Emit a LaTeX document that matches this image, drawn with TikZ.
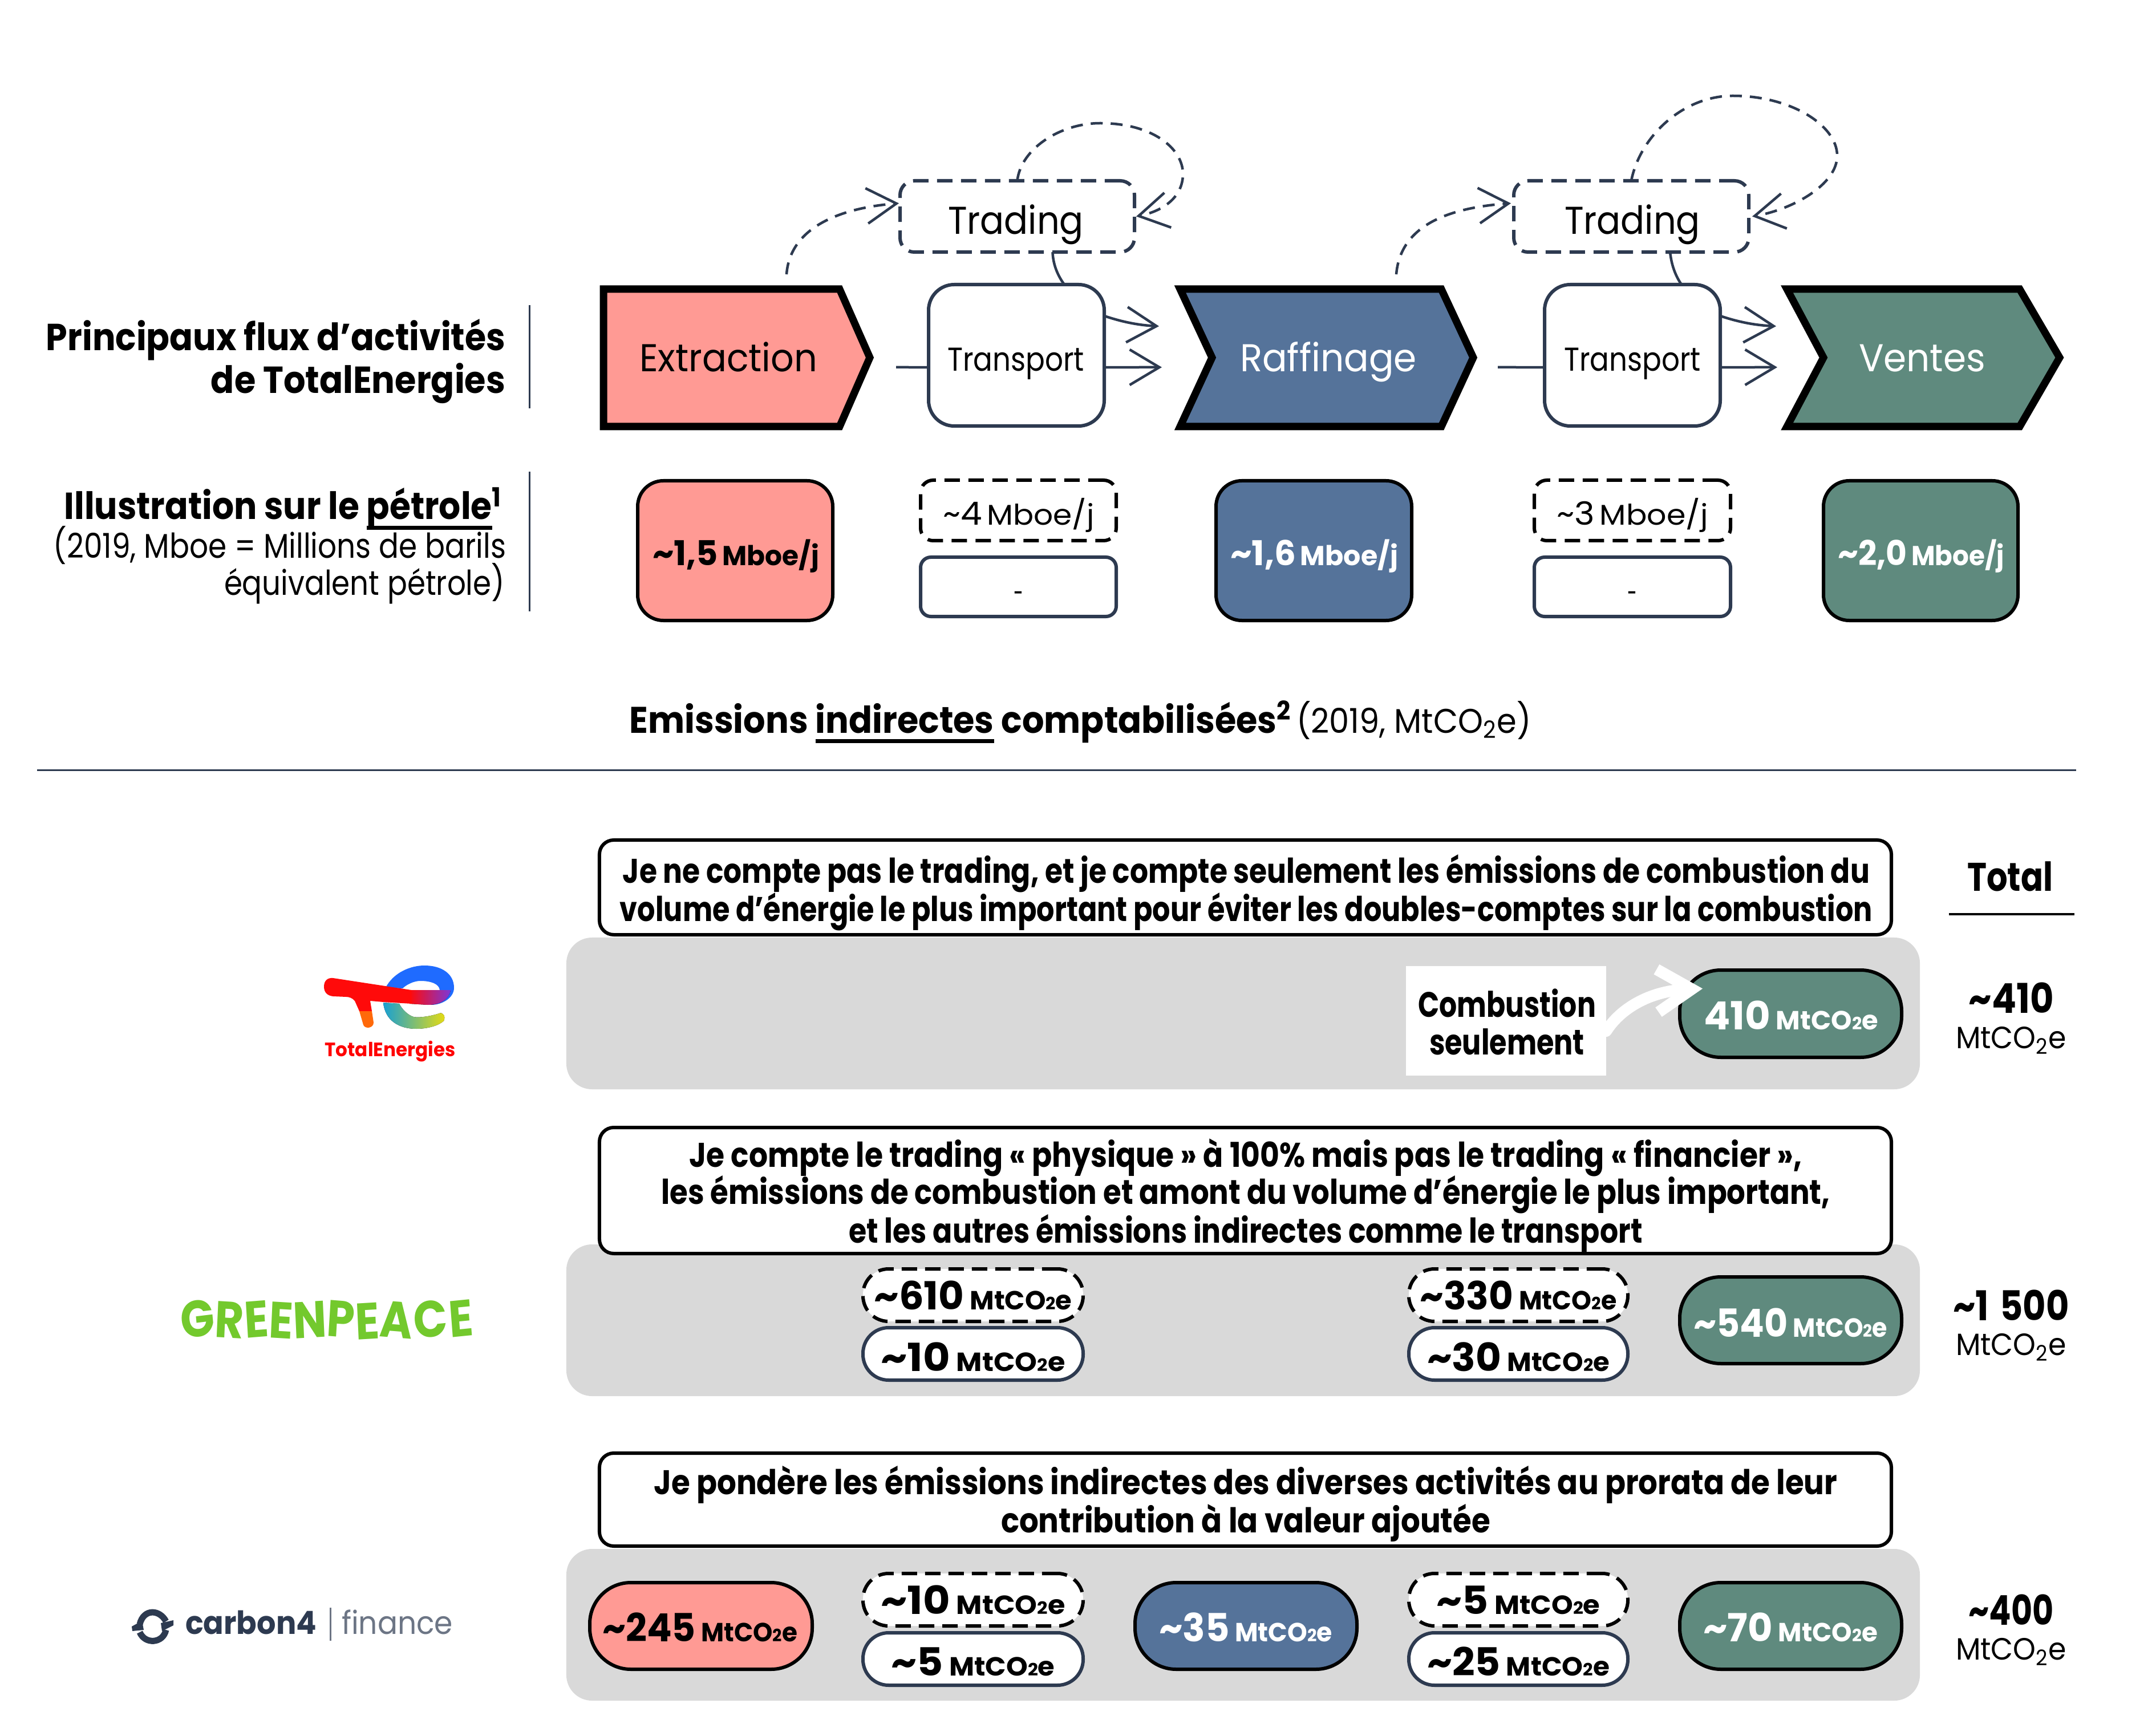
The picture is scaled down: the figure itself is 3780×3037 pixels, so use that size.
\documentclass[tikz,border=0pt]{standalone}
\usepackage{fontspec}
\usepackage{graphicx}
\setmainfont{Poppins}
\usetikzlibrary{arrows.meta,calc}
\newdimen\pxu \pxu=0.01cm
\newdimen\fsz
\newcommand\fs[1]{\fsz=#1\pxu\edef\fszv{\the\fsz}\fontsize{\fszv}{\fszv}\selectfont}
\newcommand\tld{\textasciitilde}
\newcommand\ulin[1]{\leavevmode\vtop{\hbox{\vphantom{p}#1}\kern -1.8pt\hrule height 2pt}}
\newcommand\bmt{{\fs{46}MtCO{\fs{30}2}e}}
\newcommand\pil[1]{\bfseries\fs{68}#1\kern 10\pxu\bmt}
\newcommand\mbo[1]{\bfseries\fs{60}#1\kern 8\pxu{\fs{48}Mboe/j}}
\newcommand\mbr[1]{\fs{56}#1\kern 8\pxu{\fs{50}Mboe/j}}
\newcommand\rmt{\fs{54}MtCO\textsubscript{2}e}
\newcommand\gl[3]{\raisebox{#2\pxu}{\rotatebox[origin=c]{#3}{#1}}\kern -3\pxu}
\newcommand\bx[6]{\pgfmathsetmacro\cxx{(#2+#4)/2}\pgfmathsetmacro\cyy{(#3+#5)/2}\pgfmathsetmacro\ww{(#4-#2)*0.01}\pgfmathsetmacro\hh{(#5-#3)*0.01}\node[#6,minimum width=\ww cm,minimum height=\hh cm] (#1) at (\cxx,\cyy) {};}
\newcommand\tx[6][]{\node[txt,#1] (#2) at (#3,#4) {\resizebox{#5\pxu}{\height}{#6}};}
\definecolor{pinkc}{HTML}{FF9A94}
\definecolor{bluec}{HTML}{55739A}
\definecolor{greenc}{HTML}{5F8A7E}
\definecolor{darkc}{HTML}{2D3A50}
\definecolor{grayc}{HTML}{D9D9D9}
\definecolor{gpgreen}{HTML}{73C92D}
\definecolor{teblue}{HTML}{1F6BFF}
\definecolor{tered}{HTML}{FF0A0A}
\definecolor{tepurple}{HTML}{7D37D7}
\definecolor{teteal}{HTML}{19A0D2}
\definecolor{tegreen}{HTML}{8CC83C}
\definecolor{teyellow}{HTML}{E8DC10}
\definecolor{teorange}{HTML}{FF690A}
\definecolor{tetext}{HTML}{FF0000}
\begin{document}
\begin{tikzpicture}[x=0.01cm,y=-0.01cm,
  txt/.style={anchor=base,inner sep=0pt,outer sep=0pt},
  base/.style={rectangle,inner sep=0pt,outer sep=0pt},
  chev/.style={line width=13\pxu,draw=black,miter limit=10},
  big/.style={base,draw=black,line width=6\pxu,rounded corners=0.45cm},
  dashbox/.style={base,draw=black,line width=6\pxu,rounded corners=0.22cm,fill=white,dash pattern=on 0.27cm off 0.15cm},
  solidbox/.style={base,draw=darkc,line width=6\pxu,rounded corners=0.18cm,fill=white},
  transp/.style={base,draw=darkc,line width=6\pxu,rounded corners=0.45cm,fill=white},
  tradbox/.style={base,draw=darkc,line width=6\pxu,rounded corners=0.25cm,dash pattern=on 0.27cm off 0.15cm},
  band/.style={base,fill=grayc,rounded corners=0.45cm},
  note/.style={base,draw=black,line width=6\pxu,rounded corners=0.25cm,fill=white},
  bigpill/.style={base,draw=black,line width=6\pxu,rounded corners=0.72cm},
  smallsolid/.style={base,draw=darkc,line width=6\pxu,rounded corners=0.45cm,fill=white},
  smalldash/.style={base,draw=black,line width=6\pxu,rounded corners=0.45cm,fill=white,dash pattern=on 0.27cm off 0.14cm},
  flow/.style={draw=darkc,line width=4.5\pxu},
  flowd/.style={flow,dash pattern=on 0.21cm off 0.14cm},
  tip/.style={-{Straight Barb[length=0.52cm,width=0.62cm]}},
  rule/.style={draw=darkc,line width=3\pxu}]
\useasboundingbox (0,0) rectangle (3780,3037);
\fill[white] (0,0) rectangle (3780,3037);

% chevrons
\draw[chev,fill=pinkc] (1058,507) -- (1472,507) -- (1525,627) -- (1472,748) -- (1058,748) -- cycle;
\draw[chev,fill=bluec] (2069,507) -- (2527,507) -- (2583,627) -- (2527,748) -- (2069,748) -- (2125,627) -- cycle;
\draw[chev,fill=greenc] (3133,507) -- (3541,507) -- (3611,627) -- (3541,748) -- (3133,748) -- (3197,627) -- cycle;
\tx{lext}{1277}{652}{312}{\fs{68}Extraction}
\tx[text=white]{lraf}{2329}{652}{310}{\fs{68}Raffinage}
\tx[text=white]{lven}{3370}{652}{222}{\fs{68}Ventes}

% transport and trading
\bx{trans1}{1628}{499}{1936}{747}{transp}
\bx{trans2}{2708}{499}{3016}{747}{transp}
\bx{trad1}{1578}{317}{1989}{442}{tradbox}
\bx{trad2}{2654}{317}{3066}{442}{tradbox}
\tx{ltr1}{1781}{651}{240}{\fs{58}Transport}
\tx{ltr2}{2862}{651}{240}{\fs{58}Transport}
\tx{ltd1}{1781}{411}{238}{\fs{68}Trading}
\tx{ltd2}{2862}{411}{238}{\fs{68}Trading}

\coordinate (startA) at (1379,481);
\coordinate (startB) at (2448,481);
\coordinate (lin1) at (1571,644);
\coordinate (lin2) at (2626,644);
\coordinate (outA1) at (2037,644);
\coordinate (outA2) at (2032,572);
\coordinate (outB1) at (3116,644);
\coordinate (outB2) at (3114,572);

\draw[flowd,tip] (startA) .. controls (1385,400) and (1470,365) .. ([xshift=-0.02cm,yshift=0.23cm]trad1.west);
\draw[flowd,tip] (startB) .. controls (2455,400) and (2530,365) .. ([xshift=-0.05cm,yshift=0.23cm]trad2.west);
\draw[flowd,tip] (trad1.north) .. controls (1790,260) and (1860,216) .. (1929,216) .. controls (2020,216) and (2074,260) .. (2074,305) .. controls (2074,345) and (2040,370) .. ([xshift=0.03cm]trad1.east);
\draw[flowd,tip] (trad2.north) .. controls (2875,240) and (2950,168) .. (3038,168) .. controls (3140,168) and (3221,220) .. (3221,273) .. controls (3221,325) and (3140,368) .. ([xshift=0.06cm]trad2.east);
\draw[flow] ([xshift=0.84cm]trans1.north) .. controls (1852,480) and (1846,460) .. ([xshift=0.62cm]trad1.south);
\draw[flow] ([xshift=0.86cm]trans2.north) .. controls (2935,480) and (2930,460) .. ([xshift=0.68cm]trad2.south);
\draw[flow] (lin1) -- ([yshift=-0.21cm]trans1.west);
\draw[flow] (lin2) -- ([yshift=-0.21cm]trans2.west);
\draw[flow,tip] ([yshift=-0.21cm]trans1.east) -- (outA1);
\draw[flow,tip] ([yshift=-0.21cm]trans2.east) -- (outB1);
\draw[flow,tip] ([yshift=0.69cm]trans1.east) .. controls (1960,562) and (1990,570) .. (outA2);
\draw[flow,tip] ([yshift=0.69cm]trans2.east) .. controls (3040,562) and (3070,570) .. (outB2);

% volumes
\bx{vol1}{1118}{843}{1460}{1088}{big,fill=pinkc}
\bx{vol2}{2132}{843}{2475}{1088}{big,fill=bluec}
\bx{vol3}{3197}{843}{3538}{1088}{big,fill=greenc}
\tx{lv1}{1290}{992}{292}{\mbo{\tld 1,5}}
\tx[text=white]{lv2}{2304}{992}{294}{\mbo{\tld 1,6}}
\tx[text=white]{lv3}{3368}{992}{292}{\mbo{\tld 2,0}}
\bx{dv1}{1614}{842}{1957}{948}{dashbox}
\bx{dv2}{2690}{842}{3034}{948}{dashbox}
\bx{sv1}{1614}{977}{1957}{1081}{solidbox}
\bx{sv2}{2690}{977}{3034}{1081}{solidbox}
\tx{ld1}{1786}{921}{265}{\mbr{\tld 4}}
\tx{ld2}{2862}{921}{265}{\mbr{\tld 3}}
\tx{ls1}{1786}{1058}{17}{\fs{50}-}
\tx{ls2}{2862}{1058}{17}{\fs{50}-}

% left titles
\tx[anchor=base east]{t1}{886}{615}{805}{\bfseries\fs{66}Principaux flux d’activités}
\tx[anchor=base east]{t2}{886}{690}{516}{\bfseries\fs{66}de TotalEnergies}
\tx[anchor=base east]{t3}{880}{911}{767}{\bfseries\fs{66}Illustration sur le \ulin{pétrole}\textsuperscript{1}}
\tx[anchor=base east]{t4}{887}{979}{793}{\fs{60}(2019, Mboe = Millions de barils}
\tx[anchor=base east]{t5}{885}{1044}{492}{\fs{60}équivalent pétrole)}
\coordinate (r1a) at (928,535); \coordinate (r1b) at (928,716);
\coordinate (r2a) at (928,827); \coordinate (r2b) at (928,1072);
\draw[rule] (r1a) -- (r1b);
\draw[rule] (r2a) -- (r2b);

% heading
\tx{head}{1894}{1285}{1581}{{\bfseries\fs{65}Emissions \ulin{indirectes} comptabilisées\textsuperscript{2}} \fs{60}(2019, MtCO\textsubscript{2}e)}
\coordinate (h1) at (65,1350); \coordinate (h2) at (3640,1350);
\draw[rule] (h1) -- (h2);

% rows
\bx{band1}{993}{1644}{3366}{1910}{band}
\bx{band2}{993}{2182}{3366}{2448}{band}
\bx{band3}{993}{2716}{3366}{2982}{band}
\bx{note1}{1051}{1473}{3316}{1639}{note}
\bx{note2}{1051}{1977}{3316}{2198}{note}
\bx{note3}{1051}{2548}{3316}{2711}{note}
\tx{n11}{2185}{1548}{2186}{\bfseries\fs{60}Je ne compte pas le trading, et je compte seulement les émissions de combustion du}
\tx{n12}{2185}{1615}{2196}{\bfseries\fs{60}volume d’énergie le plus important pour éviter les doubles-comptes sur la combustion}
\tx{n21}{2184}{2046}{1950}{\bfseries\fs{60}Je compte le trading « physique » à 100\% mais pas le trading « financier »,}
\tx{n22}{2184}{2111}{2049}{\bfseries\fs{60}les émissions de combustion et amont du volume d’énergie le plus important,}
\tx{n23}{2184}{2179}{1391}{\bfseries\fs{60}et les autres émissions indirectes comme le transport}
\tx{n31}{2184}{2620}{2075}{\bfseries\fs{60}Je pondère les émissions indirectes des diverses activités au prorata de leur}
\tx{n32}{2184}{2687}{858}{\bfseries\fs{60}contribution à la valeur ajoutée}

% row 1
\bx{comb}{2465}{1694}{2816}{1886}{base,fill=white}
\tx{lc1}{2642}{1783}{312}{\bfseries\fs{62}Combustion}
\tx{lc2}{2642}{1849}{272}{\bfseries\fs{62}seulement}
\bx{p1}{2945}{1701}{3334}{1854}{bigpill,fill=greenc}
\tx[text=white]{lp1}{3140}{1805}{306}{\pil{410}}
\draw[white,line width=20\pxu,line cap=round,-{Straight Barb[length=0.6cm,width=0.75cm]}] ([yshift=-0.18cm]comb.east) .. controls (2840,1770) and (2890,1738) .. ([xshift=0.4cm,yshift=0.44cm]p1.west);

% row 2
\bx{d21}{1513}{2225}{1899}{2317}{smalldash}
\bx{s21}{1513}{2328}{1899}{2420}{smallsolid}
\bx{d22}{2470}{2225}{2854}{2317}{smalldash}
\bx{s22}{2470}{2328}{2854}{2420}{smallsolid}
\bx{p2}{2945}{2239}{3334}{2391}{bigpill,fill=greenc}
\tx{l21}{1706}{2296}{347}{\pil{\tld 610}}
\tx{l22}{1706}{2404}{323}{\pil{\tld 10}}
\tx{l23}{2662}{2296}{345}{\pil{\tld 330}}
\tx{l24}{2662}{2404}{320}{\pil{\tld 30}}
\tx[text=white]{l25}{3139}{2344}{340}{\pil{\tld 540}}

% row 3
\bx{p31}{1034}{2775}{1424}{2927}{bigpill,fill=pinkc}
\bx{d31}{1513}{2759}{1899}{2851}{smalldash}
\bx{s31}{1513}{2863}{1899}{2955}{smallsolid}
\bx{p32}{1990}{2775}{2379}{2927}{bigpill,fill=bluec}
\bx{d32}{2470}{2759}{2854}{2851}{smalldash}
\bx{s32}{2470}{2863}{2854}{2955}{smallsolid}
\bx{p33}{2945}{2775}{3334}{2927}{bigpill,fill=greenc}
\tx{l31}{1227}{2878}{342}{\pil{\tld 245}}
\tx{l32}{1706}{2830}{323}{\pil{\tld 10}}
\tx{l33}{1706}{2938}{287}{\pil{\tld 5}}
\tx[text=white]{l34}{2184}{2878}{304}{\pil{\tld 35}}
\tx{l35}{2662}{2830}{287}{\pil{\tld 5}}
\tx{l36}{2662}{2938}{320}{\pil{\tld 25}}
\tx[text=white]{l37}{3139}{2878}{306}{\pil{\tld 70}}

% totals
\tx{tot}{3524}{1562}{150}{\bfseries\fs{70}Total}
\coordinate (u1) at (3417,1603); \coordinate (u2) at (3637,1603);
\draw[draw=black,line width=4\pxu] (u1) -- (u2);
\tx{tt1}{3526}{1776}{149}{\bfseries\fs{72}\tld 410}
\tx{tu1}{3526}{1838}{194}{\rmt}
\tx{tt2}{3526}{2315}{203}{\bfseries\fs{72}\tld 1\kern 22\pxu 500}
\tx{tu2}{3526}{2376}{194}{\rmt}
\tx{tt3}{3526}{2849}{149}{\bfseries\fs{72}\tld 400}
\tx{tu3}{3526}{2910}{194}{\rmt}

% TotalEnergies logo
\fill[teblue] (676,1732) .. controls (690,1705) and (720,1693) .. (744,1693) .. controls (775,1693) and (796,1708) .. (796,1732) .. controls (796,1750) and (775,1762) .. (756,1762) -- (756,1737) -- (771,1736) .. controls (770,1725) and (755,1720) .. (737,1720) .. controls (725,1720) and (712,1727) .. (706,1733) -- cycle;
\fill[left color=tered,right color=tepurple] (718,1736) -- (790,1736) .. controls (788,1750) and (775,1762) .. (750,1762) -- (718,1760) -- cycle;
\fill[left color=teteal,middle color=tegreen,right color=teyellow] (672,1758) .. controls (675,1790) and (700,1804) .. (730,1804) .. controls (750,1804) and (770,1798) .. (778,1790) .. controls (782,1782) and (776,1774) .. (770,1777) .. controls (755,1782) and (735,1785) .. (725,1783) .. controls (715,1780) and (705,1770) .. (700,1760) -- cycle;
\fill[tered] (568,1730) .. controls (568,1720) and (574,1714) .. (584,1715) -- (721,1736) -- (722,1760) -- (672,1757) -- (649,1755) -- (652,1773) -- (630,1773) -- (622,1755) .. controls (618,1750) and (612,1748) .. (607,1748) -- (584,1747) .. controls (574,1746) and (568,1740) .. (568,1730) -- cycle;
\fill[teorange] (630,1773) -- (652,1773) -- (655,1793) .. controls (655,1803) and (640,1805) .. (637,1797) -- cycle;
\tx[text=tetext]{lte}{684}{1852}{229}{\bfseries\fs{34}TotalEnergies}

% Greenpeace logo
\tx[text=gpgreen]{lgp}{571}{2346}{515}{\bfseries\fs{90}\gl{G}{2}{6}\gl{R}{0}{-3}\gl{E}{1}{4}\gl{E}{-1}{-3}\gl{N}{0}{3}\gl{P}{1}{-4}\gl{E}{-2}{3}\gl{A}{0}{-4}\gl{C}{1}{5}\gl{E}{3}{5}}

% carbon4 logo
\draw[darkc,line width=11\pxu] (245,2848) .. controls (252,2820) and (280,2822) .. (291,2843);
\draw[darkc,line width=11\pxu] (291,2858) .. controls (286,2882) and (254,2884) .. (245,2862);
\fill[darkc] (231,2852) -- (249,2842) -- (252,2858) -- (232,2860) -- cycle;
\fill[darkc] (304,2841) -- (304,2850) -- (284,2860) -- (282,2846) -- cycle;
\tx[anchor=base west,text=darkc]{lc4}{325}{2865}{230}{\bfseries\fs{56}carbon4}
\coordinate (c41) at (579,2819); \coordinate (c42) at (579,2877);
\draw[draw=darkc!70,line width=3\pxu] (c41) -- (c42);
\tx[anchor=base west,text=darkc!70]{lfi}{599}{2865}{195}{\fs{56}finance}
\end{tikzpicture}
\end{document}
